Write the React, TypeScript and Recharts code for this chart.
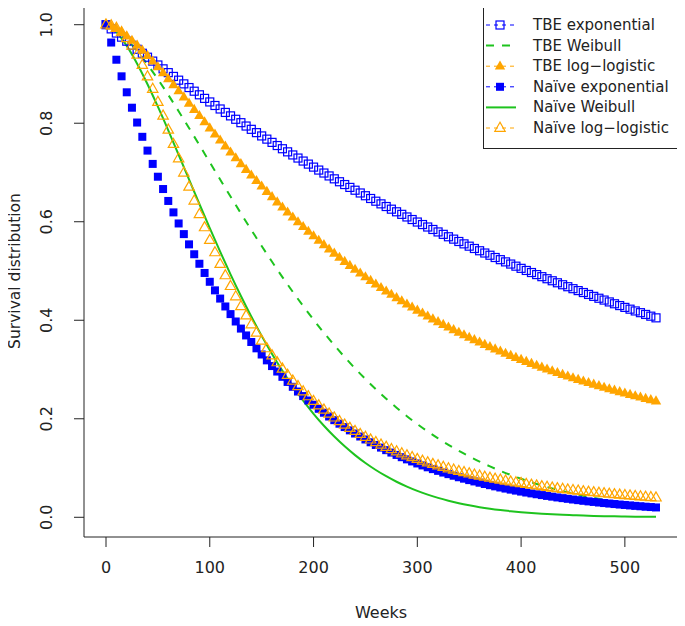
import { LineChart, Line, XAxis, YAxis, ReferenceArea } from 'recharts';

// marker series are drawn every 5 weeks, the plain Weibull lines every 10 weeks
const weeks = [
  0, 5, 10, 15, 20, 25, 30, 35, 40, 45, 50, 55, 60, 65, 70, 75, 80, 85, 90, 95,
  100, 105, 110, 115, 120, 125, 130, 135, 140, 145, 150, 155, 160, 165, 170, 175, 180, 185, 190, 195,
  200, 205, 210, 215, 220, 225, 230, 235, 240, 245, 250, 255, 260, 265, 270, 275, 280, 285, 290, 295,
  300, 305, 310, 315, 320, 325, 330, 335, 340, 345, 350, 355, 360, 365, 370, 375, 380, 385, 390, 395,
  400, 405, 410, 415, 420, 425, 430, 435, 440, 445, 450, 455, 460, 465, 470, 475, 480, 485, 490, 495,
  500, 505, 510, 515, 520, 525, 530,
];

const lineWeeks = [
  0, 10, 20, 30, 40, 50, 60, 70, 80, 90, 100, 110, 120, 130, 140, 150, 160, 170, 180, 190,
  200, 210, 220, 230, 240, 250, 260, 270, 280, 290, 300, 310, 320, 330, 340, 350, 360, 370, 380, 390,
  400, 410, 420, 430, 440, 450, 460, 470, 480, 490, 500, 510, 520, 530,
];

const tbeExponential = [
  1.0, 0.9915, 0.9831, 0.9747, 0.9665, 0.9582, 0.9501, 0.942, 0.934, 0.9261,
  0.9182, 0.9104, 0.9027, 0.895, 0.8874, 0.8799, 0.8724, 0.865, 0.8577, 0.8504,
  0.8432, 0.836, 0.8289, 0.8219, 0.8149, 0.808, 0.8011, 0.7943, 0.7876, 0.7809,
  0.7742, 0.7677, 0.7611, 0.7547, 0.7482, 0.7419, 0.7356, 0.7293, 0.7232, 0.717,
  0.7109, 0.7049, 0.6989, 0.693, 0.6871, 0.6812, 0.6755, 0.6697, 0.664, 0.6584,
  0.6528, 0.6472, 0.6417, 0.6363, 0.6309, 0.6255, 0.6202, 0.615, 0.6097, 0.6045,
  0.5994, 0.5943, 0.5893, 0.5843, 0.5793, 0.5744, 0.5695, 0.5647, 0.5599, 0.5551,
  0.5504, 0.5457, 0.5411, 0.5365, 0.532, 0.5274, 0.523, 0.5185, 0.5141, 0.5098,
  0.5054, 0.5011, 0.4969, 0.4927, 0.4885, 0.4843, 0.4802, 0.4761, 0.4721, 0.4681,
  0.4641, 0.4602, 0.4563, 0.4524, 0.4485, 0.4447, 0.441, 0.4372, 0.4335, 0.4298,
  0.4261, 0.4225, 0.4189, 0.4154, 0.4118, 0.4083, 0.4049,
];

const tbeWeibull = [
  1.0, 0.9892, 0.9702, 0.9464, 0.9191, 0.8893, 0.8575, 0.8244, 0.7903, 0.7557,
  0.7207, 0.6859, 0.6512, 0.617, 0.5835, 0.5507, 0.5187, 0.4877, 0.4577, 0.4289,
  0.4011, 0.3746, 0.3493, 0.3252, 0.3023, 0.2806, 0.2601, 0.2407, 0.2225, 0.2053,
  0.1893, 0.1742, 0.1602, 0.1471, 0.1349, 0.1236, 0.113, 0.1033, 0.0942, 0.0859,
  0.0782, 0.0711, 0.0646, 0.0587, 0.0532, 0.0482, 0.0436, 0.0394, 0.0355, 0.032,
  0.0289, 0.026, 0.0234, 0.021,
];

const tbeLogLogistic = [
  1.0, 0.997, 0.9917, 0.9848, 0.9768, 0.9679, 0.9582, 0.9479, 0.937, 0.9258,
  0.9141, 0.9022, 0.8901, 0.8778, 0.8654, 0.8529, 0.8403, 0.8277, 0.8151, 0.8026,
  0.7901, 0.7777, 0.7654, 0.7533, 0.7412, 0.7293, 0.7175, 0.7059, 0.6944, 0.6832,
  0.6721, 0.6611, 0.6504, 0.6398, 0.6294, 0.6192, 0.6092, 0.5994, 0.5897, 0.5803,
  0.571, 0.5619, 0.553, 0.5443, 0.5357, 0.5273, 0.5191, 0.511, 0.5031, 0.4954,
  0.4878, 0.4804, 0.4731, 0.466, 0.459, 0.4522, 0.4455, 0.439, 0.4326, 0.4263,
  0.4201, 0.4141, 0.4082, 0.4024, 0.3967, 0.3912, 0.3858, 0.3804, 0.3752, 0.3701,
  0.3651, 0.3601, 0.3553, 0.3506, 0.346, 0.3414, 0.337, 0.3326, 0.3283, 0.3241,
  0.32, 0.316, 0.312, 0.3081, 0.3043, 0.3005, 0.2969, 0.2933, 0.2897, 0.2862,
  0.2828, 0.2795, 0.2762, 0.273, 0.2698, 0.2667, 0.2636, 0.2606, 0.2577, 0.2547,
  0.2519, 0.2491, 0.2463, 0.2436, 0.241, 0.2384, 0.2358,
];

const naiveExponential = [
  1.0, 0.9638, 0.9289, 0.8952, 0.8628, 0.8315, 0.8014, 0.7724, 0.7444, 0.7174,
  0.6914, 0.6664, 0.6422, 0.619, 0.5965, 0.5749, 0.5541, 0.534, 0.5147, 0.496,
  0.4781, 0.4607, 0.444, 0.428, 0.4125, 0.3975, 0.3831, 0.3692, 0.3559, 0.343,
  0.3305, 0.3186, 0.307, 0.2959, 0.2852, 0.2748, 0.2649, 0.2553, 0.2461, 0.2371,
  0.2285, 0.2203, 0.2123, 0.2046, 0.1972, 0.19, 0.1832, 0.1765, 0.1701, 0.164,
  0.158, 0.1523, 0.1468, 0.1415, 0.1363, 0.1314, 0.1266, 0.122, 0.1176, 0.1134,
  0.1093, 0.1053, 0.1015, 0.0978, 0.0943, 0.0908, 0.0876, 0.0844, 0.0813, 0.0784,
  0.0755, 0.0728, 0.0702, 0.0676, 0.0652, 0.0628, 0.0605, 0.0583, 0.0562, 0.0542,
  0.0522, 0.0503, 0.0485, 0.0468, 0.0451, 0.0434, 0.0419, 0.0403, 0.0389, 0.0375,
  0.0361, 0.0348, 0.0335, 0.0323, 0.0312, 0.03, 0.0289, 0.0279, 0.0269, 0.0259,
  0.025, 0.0241, 0.0232, 0.0224, 0.0215, 0.0208, 0.02,
];

const naiveWeibull = [
  1.0, 0.9851, 0.957, 0.9209, 0.8792, 0.8336, 0.7856, 0.736, 0.6859, 0.636,
  0.5869, 0.5392, 0.4932, 0.4492, 0.4075, 0.3683, 0.3315, 0.2973, 0.2657, 0.2367,
  0.2101, 0.1858, 0.1639, 0.144, 0.1262, 0.1102, 0.096, 0.0834, 0.0722, 0.0623,
  0.0536, 0.0461, 0.0394, 0.0337, 0.0287, 0.0244, 0.0206, 0.0174, 0.0147, 0.0124,
  0.0104, 0.0087, 0.0072, 0.006, 0.005, 0.0042, 0.0034, 0.0028, 0.0023, 0.0019,
  0.0016, 0.0013, 0.001, 0.0009,
];

const naiveLogLogistic = [
  1.0, 0.9984, 0.9933, 0.9846, 0.9725, 0.9572, 0.9389, 0.9179, 0.8947, 0.8695,
  0.8429, 0.8151, 0.7865, 0.7575, 0.7284, 0.6994, 0.6707, 0.6426, 0.6151, 0.5884,
  0.5626, 0.5377, 0.5139, 0.491, 0.4691, 0.4482, 0.4283, 0.4094, 0.3914, 0.3744,
  0.3582, 0.3428, 0.3282, 0.3144, 0.3013, 0.2889, 0.277, 0.2659, 0.2553, 0.2453,
  0.2358, 0.2267, 0.2181, 0.21, 0.2022, 0.1949, 0.1879, 0.1812, 0.1749, 0.1688,
  0.163, 0.1575, 0.1523, 0.1473, 0.1425, 0.138, 0.1336, 0.1295, 0.1255, 0.1217,
  0.118, 0.1145, 0.1111, 0.1079, 0.1049, 0.1019, 0.0991, 0.0963, 0.0937, 0.0912,
  0.0888, 0.0864, 0.0842, 0.082, 0.0799, 0.0779, 0.076, 0.0741, 0.0723, 0.0706,
  0.0689, 0.0672, 0.0657, 0.0642, 0.0627, 0.0613, 0.0599, 0.0586, 0.0573, 0.0561,
  0.0549, 0.0537, 0.0526, 0.0515, 0.0504, 0.0494, 0.0484, 0.0474, 0.0465, 0.0455,
  0.0446, 0.0438, 0.0429, 0.0421, 0.0413, 0.0405, 0.0398,
];

const xTicks = [0, 100, 200, 300, 400, 500];
const yTicks = [0, 0.2, 0.4, 0.6, 0.8, 1.0];

const BLUE = '#0000ff';
const GREEN = '#1ec31e';
const ORANGE = '#ffa500';
const INK = '#222';

const X_DOMAIN: [number, number] = [-21.2, 551.2];
const Y_DOMAIN: [number, number] = [-0.04, 1.04];

type Marker = 'openSquare' | 'square' | 'triangle' | 'openTriangle' | 'none';

const legendItems: { name: string; color: string; marker: Marker; dash: string; width: number }[] = [
  { name: 'TBE exponential', color: BLUE, marker: 'openSquare', dash: '4 4', width: 1 },
  { name: 'TBE Weibull', color: GREEN, marker: 'none', dash: '8 8', width: 2 },
  { name: 'TBE log\u2212logistic', color: ORANGE, marker: 'triangle', dash: '4 4', width: 1 },
  { name: 'Na\u00efve exponential', color: BLUE, marker: 'square', dash: '4 4', width: 1 },
  { name: 'Na\u00efve Weibull', color: GREEN, marker: 'none', dash: '', width: 2 },
  { name: 'Na\u00efve log\u2212logistic', color: ORANGE, marker: 'openTriangle', dash: '4 4', width: 1 },
];

function MarkerShape({ cx, cy, marker, color }: { cx: number; cy: number; marker: Marker; color: string }) {
  if (marker === 'openSquare')
    return <rect x={cx - 4} y={cy - 4} width={8} height={8} fill="none" stroke={color} strokeWidth={1.2} />;
  if (marker === 'square')
    return <rect x={cx - 4} y={cy - 4} width={8} height={8} fill={color} />;
  if (marker === 'triangle' || marker === 'openTriangle') {
    const pts = `${cx},${cy - 5.8} ${cx - 5.2},${cy + 3.3} ${cx + 5.2},${cy + 3.3}`;
    return marker === 'triangle'
      ? <polygon points={pts} fill={color} />
      : <polygon points={pts} fill="none" stroke={color} strokeWidth={1.2} />;
  }
  return null;
}

function dotRenderer(marker: Marker, color: string, id: string) {
  return (p: any) => (
    <g key={`${id}-${p.index}`}>
      {p.cx == null || p.cy == null ? null : <MarkerShape cx={p.cx} cy={p.cy} marker={marker} color={color} />}
    </g>
  );
}

function YTick({ y, payload }: any) {
  const x = 52;
  return (
    <text x={x} y={y} transform={`rotate(-90 ${x} ${y})`} textAnchor="middle" fontSize={16} fill={INK}>
      {Number(payload.value).toFixed(1)}
    </text>
  );
}

function YTitle({ viewBox }: any) {
  const x = 20;
  const y = viewBox.y + viewBox.height / 2;
  return (
    <text x={x} y={y} transform={`rotate(-90 ${x} ${y})`} textAnchor="middle" fontSize={15.5} fill={INK}>
      Survival distribution
    </text>
  );
}

function LegendBox() {
  return (
    <svg width={196} height={144} style={{ position: 'absolute', left: 483, top: 5 }}>
      <rect x={0.5} y={0.5} width={195} height={143} fill="#fff" stroke={INK} />
      {legendItems.map((item, i) => {
        const cy = 20 + i * 20.6;
        return (
          <g key={item.name}>
            <line x1={3} x2={33} y1={cy} y2={cy} stroke={item.color} strokeWidth={item.width}
              strokeDasharray={item.dash || undefined} />
            <MarkerShape cx={17} cy={cy} marker={item.marker} color={item.color} />
            <text x={50} y={cy} dominantBaseline="central" fontSize={15} fill={INK}>{item.name}</text>
          </g>
        );
      })}
    </svg>
  );
}

export default function App() {
  const pointData = weeks.map((w, i) => ({
    week: w,
    tbeExp: tbeExponential[i],
    tbeLL: tbeLogLogistic[i],
    naiveExp: naiveExponential[i],
    naiveLL: naiveLogLogistic[i],
  }));
  const lineData = lineWeeks.map((w, i) => ({
    week: w,
    tbeWeib: tbeWeibull[i],
    naiveWeib: naiveWeibull[i],
  }));

  return (
    <div style={{ position: 'relative', width: 685, height: 626, margin: -8, fontFamily: '"DejaVu Sans", Verdana, sans-serif', background: '#fff' }}>
      <LineChart width={685} height={626} data={pointData} margin={{ top: 5, right: 7, left: 0, bottom: 0 }}>
        <XAxis
          dataKey="week"
          type="number"
          domain={X_DOMAIN}
          ticks={xTicks}
          allowDataOverflow
          height={89}
          axisLine={false}
          tickSize={10}
          tickMargin={15}
          tickLine={{ stroke: INK }}
          tick={{ fontSize: 16, fill: INK }}
          label={{ value: 'Weeks', position: 'insideBottom', offset: 8, fontSize: 16, fill: INK }}
        />
        <YAxis
          type="number"
          domain={Y_DOMAIN}
          ticks={yTicks}
          allowDataOverflow
          width={84}
          axisLine={false}
          tickSize={10}
          tickLine={{ stroke: INK }}
          tick={<YTick />}
          label={<YTitle />}
        />
        <ReferenceArea x1={X_DOMAIN[0]} x2={X_DOMAIN[1]} y1={Y_DOMAIN[0]} y2={Y_DOMAIN[1]}
          fill="none" stroke={INK} strokeWidth={1} ifOverflow="visible" />
        <Line dataKey="tbeExp" stroke="none" isAnimationActive={false} activeDot={false}
          dot={dotRenderer('openSquare', BLUE, 'te')} />
        <Line data={lineData} dataKey="tbeWeib" type="monotone" stroke={GREEN} strokeWidth={2}
          strokeDasharray="8 8" dot={false} activeDot={false} isAnimationActive={false} />
        <Line dataKey="tbeLL" stroke="none" isAnimationActive={false} activeDot={false}
          dot={dotRenderer('triangle', ORANGE, 'tl')} />
        <Line dataKey="naiveExp" stroke="none" isAnimationActive={false} activeDot={false}
          dot={dotRenderer('square', BLUE, 'ne')} />
        <Line data={lineData} dataKey="naiveWeib" type="monotone" stroke={GREEN} strokeWidth={2}
          dot={false} activeDot={false} isAnimationActive={false} />
        <Line dataKey="naiveLL" stroke="none" isAnimationActive={false} activeDot={false}
          dot={dotRenderer('openTriangle', ORANGE, 'nl')} />
      </LineChart>
      <LegendBox />
    </div>
  );
}
